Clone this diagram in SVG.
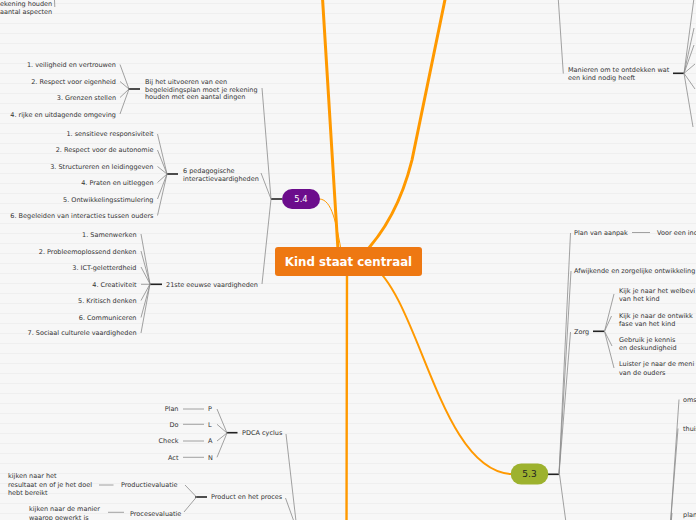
<svg xmlns="http://www.w3.org/2000/svg" width="696" height="520" viewBox="0 0 696 520">
<defs>
<pattern id="bg" x="0" y="0" width="696" height="10" patternUnits="userSpaceOnUse">
<rect x="0" y="0" width="696" height="10" fill="#f7f7f7"/>
<rect x="0" y="3" width="696" height="1" fill="#efefef"/>
</pattern>
<style>
text{font-family:"DejaVu Sans",Verdana,sans-serif;font-size:6.5px;fill:#333}
.r{text-anchor:end}
.g{stroke:#8a8a8a;stroke-width:0.8;fill:none}
.j{stroke:#222;stroke-width:1.6;fill:none}
.o{stroke:#ff9900;fill:none;stroke-linecap:round}
</style>
</defs>
<rect width="696" height="520" fill="url(#bg)"/>

<g id="connectors">
<path class="o" stroke-width="3" d="M338 250 L322 -10"/>
<path class="o" stroke-width="3" d="M355 262 C385 235 402 200 412 160 L448 -15"/>
<path class="o" stroke-width="2.4" d="M347 270 L346.5 530"/>
<path class="o" stroke-width="2" d="M372 265 C420 300 440 470 511 474"/>
<path class="o" stroke-width="1" stroke="#f8a640" d="M320 199 C332 200 336 222 342 255"/>

<path class="j" d="M271 199 H282"/>
<path class="g" d="M262 88 L271 199 M261 173 L271 199 M262 284 L271 199"/>
<path class="j" d="M128 89 H140"/>
<path class="g" d="M120 64.5 L129 89 M120 81.5 L129 89 M120 97.5 L129 89 M120 114 L129 89"/>
<path class="j" d="M167 174 H178"/>
<path class="g" d="M157.5 134 L167 174 M157.5 150 L167 174 M157.5 166.5 L167 174 M157.5 182.5 L167 174 M157.5 199 L167 174 M157.5 215.5 L167 174"/>
<path class="j" d="M150 284.3 H162"/>
<path class="g" d="M141 234 L150 284 M141 251 L150 284 M141 267 L150 284 M141 284.3 L150 284.3 M141 300.5 L150 284 M141 317.5 L150 284 M141 333 L150 284"/>
<path class="g" d="M54.3 -5 L54.8 7"/>

<path class="j" d="M226.5 432.7 H237.5"/>
<path class="g" d="M217 409 L227 433 M217 424.3 L227 433 M217 441 L227 433 M217 457.3 L227 433"/>
<path class="g" d="M183 409 H204 M183 424.3 H204 M183 441 H204 M183 457.3 H204"/>
<path class="j" d="M195 497 H207"/>
<path class="g" d="M185 485 L196.5 497 M184 512 L196.5 497"/>
<path class="g" d="M99 485 H113.5 M108 512.3 H124"/>
<path class="g" d="M286 434 L297 530 M285.5 498 L297 530"/>

<path class="g" d="M558 -5 L563.3 73.5"/>
<path class="j" d="M673 73.3 H684"/>
<path class="g" d="M684 73.3 L694 -2 M684 73.3 L694 28 M684 73.3 L694 45 M684 73.3 L695 64 M684 73.3 L695 89 M684 73.3 L693 127"/>
<path class="j" d="M548 474.3 H559"/>
<path class="g" d="M559 474.3 L570.5 233 M559 474.3 L571 271 M559 474.3 L570.5 332 M559.5 474.3 L567 530"/>
<path class="g" d="M632 232.5 H650"/>
<path class="j" d="M593 331.3 H604"/>
<path class="g" d="M604.5 331.3 L614 294 M604.5 331.3 L611.5 316 M604.5 331.3 L612 346 M604.5 331.3 L614 368"/>
<path class="g" d="M679 399.5 L670 530 M678 428.5 L670 530 M672 513 L670.5 530"/>
</g>

<g id="center">
<rect x="275" y="247" width="147" height="29" rx="3" fill="#ee7812"/>
<text x="348.5" y="266" style="font-size:11.8px;font-weight:bold;fill:#fff;text-anchor:middle">Kind staat centraal</text>
</g>

<g id="n54">
<rect x="282" y="189" width="38" height="20" rx="10" fill="#6c0d8c"/>
<text x="301" y="202" style="font-size:8.4px;fill:#fff;text-anchor:middle">5.4</text>
</g>

<g id="n53">
<rect x="510.7" y="463.5" width="37.6" height="21" rx="10.5" fill="#9db22e"/>
<text x="529.5" y="477.3" style="font-size:9px;fill:#222;text-anchor:middle">5.3</text>
</g>

<g id="topleft">
<text x="0" y="6.3">ekening houden</text>
<text x="0" y="14">aantal aspecten</text>
</g>

<g id="uitvoeren">
<text x="145" y="84.2">Bij het uitvoeren van een</text>
<text x="145" y="91.5">begeleidingsplan moet je rekening</text>
<text x="145" y="99">houden met een aantal dingen</text>
</g>
<g id="uitvoeren-items">
<text class="r" x="116" y="66.6">1. veiligheid en vertrouwen</text>
<text class="r" x="116" y="84">2. Respect voor eigenheid</text>
<text class="r" x="116" y="100">3. Grenzen stellen</text>
<text class="r" x="116" y="116.6">4. rijke en uitdagende omgeving</text>
</g>

<g id="pedagogisch">
<text x="183" y="173.3">6 pedagogische</text>
<text x="183" y="181.3">interactievaardigheden</text>
</g>
<g id="pedagogisch-items">
<text class="r" x="153.5" y="136.3">1. sensitieve responsiviteit</text>
<text class="r" x="153.5" y="152.3">2. Respect voor de autonomie</text>
<text class="r" x="153.5" y="169">3. Structureren en leidinggeven</text>
<text class="r" x="153.5" y="185">4. Praten en uitleggen</text>
<text class="r" x="153.5" y="201.6">5. Ontwikkelingsstimulering</text>
<text class="r" x="153.5" y="218">6. Begeleiden van interacties tussen ouders</text>
</g>

<g id="eeuw">
<text x="166" y="286.6">21ste eeuwse vaardigheden</text>
</g>
<g id="eeuw-items">
<text class="r" x="136.5" y="237">1. Samenwerken</text>
<text class="r" x="136.5" y="253.6">2. Probleemoplossend denken</text>
<text class="r" x="136.5" y="269.6">3. ICT-geletterdheid</text>
<text class="r" x="136.5" y="286.6">4. Creativiteit</text>
<text class="r" x="136.5" y="303">5. Kritisch denken</text>
<text class="r" x="136.5" y="320">6. Communiceren</text>
<text class="r" x="136.5" y="335.3">7. Sociaal culturele vaardigheden</text>
</g>

<g id="pdca">
<text x="242" y="435">PDCA cyclus</text>
</g>
<g id="pdca-letters">
<text x="208" y="411.3">P</text>
<text x="208" y="426.6">L</text>
<text x="208" y="443.3">A</text>
<text x="208" y="459.6">N</text>
</g>
<g id="pdca-words">
<text class="r" x="178.5" y="411.3">Plan</text>
<text class="r" x="178.5" y="426.6">Do</text>
<text class="r" x="178.5" y="443.3">Check</text>
<text class="r" x="178.5" y="459.6">Act</text>
</g>

<g id="product">
<text x="211" y="499">Product en het proces</text>
</g>
<g id="productevaluatie">
<text x="121" y="487.3">Productievaluatie</text>
</g>
<g id="procesevaluatie">
<text x="130" y="515.6">Procesevaluatie</text>
</g>
<g id="resultaat">
<text x="8" y="478.3">kijken naar het</text>
<text x="8" y="486.8">resultaat en of je het doel</text>
<text x="8" y="495">hebt bereikt</text>
</g>
<g id="manier">
<text x="29" y="511.4">kijken naar de manier</text>
<text x="29" y="519.6">waarop gewerkt is</text>
</g>

<g id="manieren">
<text x="568" y="72.4">Manieren om te ontdekken wat</text>
<text x="568" y="80">een kind nodig heeft</text>
</g>

<g id="plan-aanpak">
<text x="574" y="234.6">Plan van aanpak</text>
</g>
<g id="voor-een">
<text x="657" y="234.6">Voor een ind</text>
</g>
<g id="afwijkende">
<text x="574" y="273.3">Afwijkende en zorgelijke ontwikkeling</text>
</g>
<g id="zorg">
<text x="574" y="334">Zorg</text>
</g>
<g id="zorg-1">
<text x="619" y="293">Kijk je naar het welbevi</text>
<text x="619" y="300.6">van het kind</text>
</g>
<g id="zorg-2">
<text x="619" y="318">Kijk je naar de ontwikk</text>
<text x="619" y="325.6">fase van het kind</text>
</g>
<g id="zorg-3">
<text x="619" y="341.6">Gebruik je kennis</text>
<text x="619" y="350">en deskundigheid</text>
</g>
<g id="zorg-4">
<text x="619" y="366.3">Luister je naar de meni</text>
<text x="619" y="374.6">van de ouders</text>
</g>

<g id="oms"><text x="683" y="401.6">oms</text></g>
<g id="thuis"><text x="683" y="431">thuis</text></g>
<g id="plan-r"><text x="683" y="517.3">plan</text></g>
</svg>
